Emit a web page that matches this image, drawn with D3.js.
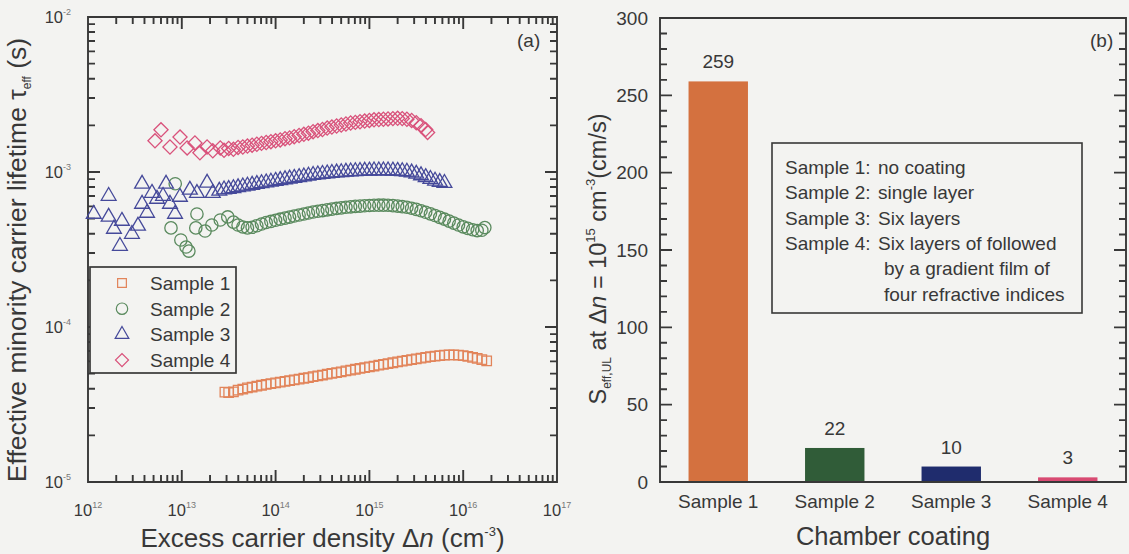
<!DOCTYPE html>
<html>
<head>
<meta charset="utf-8">
<script src="https://cdn.jsdelivr.net/npm/d3@7"></script>
<style>
  html, body { margin: 0; padding: 0; background: #f3f3f1; }
  svg { display: block; font-family: "Liberation Sans", Arial, Helvetica, sans-serif; }
</style>
</head>
<body>
<svg id="chart" width="1129" height="554"></svg>
<script>
// ---------- Panel (a): effective lifetime vs. excess carrier density ----------
// [Δn (cm^-3), τeff (s)]
const sample1 = [
  [2.88e13,3.80e-5],[3.16e13,3.78e-5],[3.55e13,3.82e-5],[3.98e13,3.92e-5],[4.47e13,3.98e-5],[5.01e13,4.05e-5],
  [5.62e13,4.10e-5],[6.31e13,4.16e-5],[7.08e13,4.21e-5],[7.94e13,4.26e-5],[8.91e13,4.31e-5],
  [1.00e14,4.36e-5],[1.12e14,4.41e-5],[1.26e14,4.46e-5],[1.41e14,4.51e-5],[1.58e14,4.56e-5],[1.78e14,4.61e-5],
  [2.00e14,4.67e-5],[2.24e14,4.72e-5],[2.51e14,4.78e-5],[2.82e14,4.84e-5],[3.16e14,4.90e-5],[3.55e14,4.96e-5],
  [3.98e14,5.02e-5],[4.47e14,5.08e-5],[5.01e14,5.14e-5],[5.62e14,5.21e-5],[6.31e14,5.27e-5],[7.08e14,5.34e-5],
  [7.94e14,5.40e-5],[8.91e14,5.47e-5],
  [1.00e15,5.53e-5],[1.12e15,5.60e-5],[1.26e15,5.67e-5],[1.41e15,5.74e-5],[1.58e15,5.81e-5],[1.78e15,5.88e-5],
  [2.00e15,5.95e-5],[2.24e15,6.02e-5],[2.51e15,6.09e-5],[2.82e15,6.16e-5],[3.16e15,6.23e-5],[3.55e15,6.30e-5],
  [3.98e15,6.37e-5],[4.47e15,6.43e-5],[5.01e15,6.49e-5],[5.62e15,6.54e-5],[6.31e15,6.58e-5],[7.08e15,6.60e-5],
  [7.94e15,6.60e-5],[8.91e15,6.58e-5],
  [1.00e16,6.53e-5],[1.12e16,6.46e-5],[1.26e16,6.37e-5],[1.41e16,6.27e-5],[1.58e16,6.16e-5],[1.78e16,6.05e-5]
];
const sample2 = [
  [7.67e12,4.36e-4],[8.51e12,8.40e-4],[9.77e12,3.64e-4],[1.11e13,3.28e-4],[1.19e13,3.09e-4],[1.41e13,4.36e-4],
  [1.45e13,5.36e-4],[1.77e13,4.16e-4],[2.09e13,4.55e-4],[2.57e13,4.90e-4],[3.09e13,5.13e-4],
  [3.55e13,4.75e-4],[3.98e13,4.55e-4],[4.47e13,4.42e-4],[5.01e13,4.36e-4],[5.62e13,4.40e-4],[6.31e13,4.50e-4],
  [7.08e13,4.62e-4],[7.94e13,4.72e-4],[8.91e13,4.80e-4],
  [1.00e14,4.88e-4],[1.12e14,4.96e-4],[1.26e14,5.04e-4],[1.41e14,5.12e-4],[1.58e14,5.20e-4],[1.78e14,5.28e-4],
  [2.00e14,5.36e-4],[2.24e14,5.44e-4],[2.51e14,5.52e-4],[2.82e14,5.58e-4],[3.16e14,5.64e-4],[3.55e14,5.70e-4],
  [3.98e14,5.76e-4],[4.47e14,5.82e-4],[5.01e14,5.87e-4],[5.62e14,5.92e-4],[6.31e14,5.96e-4],[7.08e14,6.00e-4],
  [7.94e14,6.03e-4],[8.91e14,6.06e-4],
  [1.00e15,6.08e-4],[1.12e15,6.10e-4],[1.26e15,6.11e-4],[1.41e15,6.11e-4],[1.58e15,6.10e-4],[1.78e15,6.07e-4],
  [2.00e15,6.03e-4],[2.24e15,5.98e-4],[2.51e15,5.92e-4],[2.82e15,5.84e-4],[3.16e15,5.74e-4],[3.55e15,5.62e-4],
  [3.98e15,5.50e-4],[4.47e15,5.37e-4],[5.01e15,5.24e-4],[5.62e15,5.10e-4],[6.31e15,4.96e-4],[7.08e15,4.82e-4],
  [7.94e15,4.68e-4],[8.91e15,4.55e-4],
  [1.00e16,4.43e-4],[1.12e16,4.33e-4],[1.26e16,4.24e-4],[1.41e16,4.19e-4],[1.58e16,4.21e-4],[1.70e16,4.38e-4]
];
const sample3 = [
  [1.15e12,5.36e-4],[1.66e12,7.00e-4],[1.66e12,5.13e-4],[1.89e12,4.29e-4],[2.19e12,3.33e-4],[2.30e12,4.83e-4],
  [2.94e12,3.98e-4],[3.41e12,4.49e-4],[3.77e12,8.38e-4],[3.77e12,6.22e-4],[4.26e12,5.44e-4],[4.81e12,7.32e-4],
  [5.44e12,6.70e-4],[6.31e12,7.00e-4],[6.79e12,8.38e-4],[7.48e12,6.22e-4],[8.47e12,5.36e-4],[9.55e12,6.90e-4],
  [1.22e13,7.66e-4],[1.45e13,7.30e-4],[1.86e13,8.50e-4],[2.14e13,7.30e-4],
  [2.51e13,7.55e-4],[2.82e13,7.70e-4],[3.16e13,7.75e-4],[3.55e13,7.85e-4],[3.98e13,7.95e-4],[4.47e13,8.05e-4],
  [5.01e13,8.15e-4],[5.62e13,8.25e-4],[6.31e13,8.35e-4],[7.08e13,8.45e-4],[7.94e13,8.55e-4],[8.91e13,8.65e-4],
  [1.00e14,8.75e-4],[1.12e14,8.85e-4],[1.26e14,8.95e-4],[1.41e14,9.05e-4],[1.58e14,9.15e-4],[1.78e14,9.25e-4],
  [2.00e14,9.35e-4],[2.24e14,9.45e-4],[2.51e14,9.55e-4],[2.82e14,9.63e-4],[3.16e14,9.70e-4],[3.55e14,9.77e-4],
  [3.98e14,9.84e-4],[4.47e14,9.90e-4],[5.01e14,9.96e-4],[5.62e14,1.001e-3],[6.31e14,1.006e-3],[7.08e14,1.010e-3],
  [7.94e14,1.014e-3],[8.91e14,1.017e-3],
  [1.00e15,1.019e-3],[1.12e15,1.021e-3],[1.26e15,1.022e-3],[1.41e15,1.022e-3],[1.58e15,1.021e-3],[1.78e15,1.019e-3],
  [2.00e15,1.015e-3],[2.24e15,1.010e-3],[2.51e15,1.003e-3],[2.82e15,9.90e-4],[3.16e15,9.72e-4],[3.55e15,9.50e-4],
  [3.98e15,9.25e-4],[4.47e15,9.00e-4],[5.01e15,8.78e-4],[5.62e15,8.60e-4],[6.31e15,8.48e-4]
];
const sample4 = [
  [5.18e12,1.59e-3],[6.00e12,1.87e-3],[7.48e12,1.45e-3],[9.57e12,1.68e-3],[1.14e13,1.43e-3],[1.38e13,1.54e-3],
  [1.56e13,1.33e-3],[1.86e13,1.45e-3],[2.14e13,1.37e-3],[2.57e13,1.43e-3],
  [2.82e13,1.38e-3],[3.16e13,1.42e-3],[3.55e13,1.40e-3],[3.98e13,1.44e-3],[4.47e13,1.45e-3],[5.01e13,1.47e-3],
  [5.62e13,1.49e-3],[6.31e13,1.51e-3],[7.08e13,1.53e-3],[7.94e13,1.55e-3],[8.91e13,1.57e-3],
  [1.00e14,1.59e-3],[1.12e14,1.61e-3],[1.26e14,1.64e-3],[1.41e14,1.66e-3],[1.58e14,1.69e-3],[1.78e14,1.72e-3],
  [2.00e14,1.75e-3],[2.24e14,1.78e-3],[2.51e14,1.82e-3],[2.82e14,1.85e-3],[3.16e14,1.88e-3],[3.55e14,1.92e-3],
  [3.98e14,1.95e-3],[4.47e14,1.98e-3],[5.01e14,2.01e-3],[5.62e14,2.04e-3],[6.31e14,2.07e-3],[7.08e14,2.09e-3],
  [7.94e14,2.11e-3],[8.91e14,2.13e-3],
  [1.00e15,2.15e-3],[1.12e15,2.17e-3],[1.26e15,2.18e-3],[1.41e15,2.19e-3],[1.58e15,2.20e-3],[1.78e15,2.21e-3],
  [2.00e15,2.22e-3],[2.24e15,2.21e-3],[2.51e15,2.19e-3],[2.82e15,2.15e-3],[3.16e15,2.08e-3],[3.55e15,1.99e-3],
  [3.98e15,1.88e-3],[4.17e15,1.80e-3]
];
const seriesNames = ["Sample 1", "Sample 2", "Sample 3", "Sample 4"];
const dnDecades = [1e12, 1e13, 1e14, 1e15, 1e16, 1e17];
const tauDecades = [1e-5, 1e-4, 1e-3, 1e-2];

// ---------- Panel (b): S_eff,UL per chamber coating ----------
const coatings = ["Sample 1", "Sample 2", "Sample 3", "Sample 4"];
const sEff = [259, 22, 10, 3];
const sTicks = [0, 50, 100, 150, 200, 250, 300];
const coatingNotes = [
  ["Sample 1:", "no coating"],
  ["Sample 2:", "single layer"],
  ["Sample 3:", "Six layers"],
  ["Sample 4:", "Six layers of followed"],
  ["", "by a gradient film of"],
  ["", "four refractive indices"]
];

// ---------- styling ----------
const ink = "#383838";
const bg = "#f3f3f1";
const markerColors = ["#e2845a", "#5a8a5e", "#45499a", "#d9527b"];
const barColors = ["#d4713f", "#305c38", "#1f2c6d", "#d84a72"];
const markerShapes = [
  { type: d3.symbolSquare, size: 90, rotate: 0 },
  { type: d3.symbolCircle, size: 120, rotate: 0 },
  { type: d3.symbolTriangle, size: 95, rotate: 0 },
  { type: d3.symbolSquare, size: 100, rotate: 45 }
];

const svg = d3.select("#chart");

// Frame outline plus inward tick marks, all in one path.
// ticks: list of {scale, values, edge: "top"|"bottom"|"left"|"right", len}
function framePath(box, ticks) {
  const p = d3.path();
  p.rect(box.left, box.top, box.right - box.left, box.bottom - box.top);
  ticks.forEach(t => {
    t.values.forEach(v => {
      const q = t.scale(v);
      if (t.edge === "bottom") { p.moveTo(q, box.bottom); p.lineTo(q, box.bottom - t.len); }
      if (t.edge === "top")    { p.moveTo(q, box.top);    p.lineTo(q, box.top + t.len); }
      if (t.edge === "left")   { p.moveTo(box.left, q);   p.lineTo(box.left + t.len, q); }
      if (t.edge === "right")  { p.moveTo(box.right, q);  p.lineTo(box.right - t.len, q); }
    });
  });
  return p.toString();
}

// ================= Panel (a) =================
const A = { left: 88, right: 557, top: 17, bottom: 482 };
const x = d3.scaleLog().domain([1e12, 1e17]).range([A.left, A.right]);
const y = d3.scaleLog().domain([1e-5, 1e-2]).range([A.bottom, A.top]);
const isDecade = v => Math.abs(Math.log10(v) - Math.round(Math.log10(v))) < 1e-9;
const xMinor = x.ticks().filter(v => !isDecade(v));
const yMinor = y.ticks().filter(v => !isDecade(v));

const gA = svg.append("g");

gA.append("path")
  .attr("d", framePath(A, [
    { scale: x, values: xMinor, edge: "bottom", len: 7 },
    { scale: x, values: dnDecades, edge: "bottom", len: 12 },
    { scale: x, values: xMinor, edge: "top", len: 7 },
    { scale: x, values: dnDecades, edge: "top", len: 12 },
    { scale: y, values: yMinor, edge: "left", len: 7 },
    { scale: y, values: tauDecades, edge: "left", len: 12 },
    { scale: y, values: yMinor, edge: "right", len: 7 },
    { scale: y, values: tauDecades, edge: "right", len: 12 }
  ]))
  .attr("fill", "none").attr("stroke", ink).attr("stroke-width", 1.9);

// decade labels
const xLab = gA.selectAll(".xlab").data(dnDecades).join("text")
  .attr("class", "xlab")
  .attr("x", d => x(d)).attr("y", 516)
  .attr("text-anchor", "middle").attr("fill", ink).attr("font-size", 16.5);
xLab.append("tspan").text("10");
xLab.append("tspan").attr("font-size", 9).attr("dy", -8).attr("fill", "#777")
  .text(d => Math.round(Math.log10(d)));

const yLab = gA.selectAll(".ylab").data(tauDecades).join("text")
  .attr("class", "ylab")
  .attr("x", 71).attr("y", d => y(d) + 6)
  .attr("text-anchor", "end").attr("fill", ink).attr("font-size", 16.5);
yLab.append("tspan").text("10");
yLab.append("tspan").attr("font-size", 9).attr("dy", -8).attr("fill", "#777")
  .text(d => "-" + Math.abs(Math.round(Math.log10(d))));

// scatter series
[sample1, sample2, sample3, sample4].forEach((data, i) => {
  const m = markerShapes[i];
  gA.append("g")
    .selectAll("path").data(data).join("path")
    .attr("d", d3.symbol().type(m.type).size(m.size))
    .attr("transform", d => `translate(${x(d[0])},${y(d[1])}) rotate(${m.rotate})`)
    .attr("fill", "none")
    .attr("stroke", markerColors[i])
    .attr("stroke-width", 1.3);
});

// legend
const legA = gA.append("g");
legA.append("rect")
  .attr("x", 90).attr("y", 267).attr("width", 146).attr("height", 106)
  .attr("fill", bg).attr("stroke", ink).attr("stroke-width", 1.7);
const legRows = legA.selectAll(".row").data(seriesNames).join("g")
  .attr("class", "row")
  .attr("transform", (d, i) => `translate(0,${283 + i * 25.7})`);
legRows.append("path")
  .attr("d", (d, i) => d3.symbol().type(markerShapes[i].type).size(markerShapes[i].size * 0.85)())
  .attr("transform", (d, i) => `translate(122,0) rotate(${markerShapes[i].rotate})`)
  .attr("fill", "none")
  .attr("stroke", (d, i) => markerColors[i])
  .attr("stroke-width", 1.2);
legRows.append("text")
  .attr("x", 150).attr("y", 7)
  .attr("font-size", 19).attr("fill", ink)
  .text(d => d);

gA.append("text").attr("x", 517).attr("y", 47)
  .attr("font-size", 19).attr("fill", ink).text("(a)");

// axis titles
const xTitle = gA.append("text")
  .attr("x", (A.left + A.right) / 2).attr("y", 547)
  .attr("text-anchor", "middle").attr("font-size", 26).attr("fill", ink);
xTitle.append("tspan").text("Excess carrier density \u0394");
xTitle.append("tspan").attr("font-style", "italic").text("n");
xTitle.append("tspan").text(" (cm");
xTitle.append("tspan").attr("font-size", 13).attr("dy", -11).text("-3");
xTitle.append("tspan").attr("dy", 11).text(")");

const yTitle = gA.append("text")
  .attr("transform", `translate(26,260) rotate(-90)`)
  .attr("text-anchor", "middle").attr("font-size", 26.5).attr("fill", ink);
yTitle.append("tspan").text("Effective minority carrier lifetime \u03c4");
yTitle.append("tspan").attr("font-size", 12).attr("dy", 5).text("eff");
yTitle.append("tspan").attr("dy", -5).text(" (s)");

// ================= Panel (b) =================
const B = { left: 660, right: 1126, top: 18, bottom: 482 };
const bx = d3.scaleBand().domain(coatings).range([B.left, B.right])
  .paddingInner(0.49).paddingOuter(0.245);
const by = d3.scaleLinear().domain([0, 300]).range([B.bottom, B.top]);
const sMinor = d3.range(0, 301, 10).filter(v => v % 50 !== 0);

const gB = svg.append("g");

gB.append("g").selectAll("rect").data(coatings).join("rect")
  .attr("x", d => bx(d))
  .attr("y", (d, i) => by(sEff[i]))
  .attr("width", bx.bandwidth())
  .attr("height", (d, i) => by(0) - by(sEff[i]))
  .attr("fill", (d, i) => barColors[i]);

gB.append("g").selectAll("text").data(coatings).join("text")
  .attr("x", d => bx(d) + bx.bandwidth() / 2)
  .attr("y", (d, i) => by(sEff[i]) - 13)
  .attr("text-anchor", "middle").attr("font-size", 19).attr("fill", ink)
  .text((d, i) => sEff[i]);

gB.append("path")
  .attr("d", framePath(B, [
    { scale: by, values: sMinor, edge: "left", len: 7 },
    { scale: by, values: sTicks, edge: "left", len: 12 },
    { scale: by, values: sMinor, edge: "right", len: 7 },
    { scale: by, values: sTicks, edge: "right", len: 12 }
  ]))
  .attr("fill", "none").attr("stroke", ink).attr("stroke-width", 1.9);

// value labels on the left axis
gB.append("g").attr("transform", `translate(${B.left},0)`)
  .call(d3.axisLeft(by).tickValues(sTicks).tickSize(0).tickPadding(12))
  .call(g => {
    g.select(".domain").remove();
    g.selectAll("text").attr("font-size", 19).attr("fill", ink)
      .attr("font-family", "Liberation Sans, Arial, sans-serif");
  });

// category labels
gB.append("g").attr("transform", `translate(0,${B.bottom})`)
  .call(d3.axisBottom(bx).tickSize(0).tickPadding(13))
  .call(g => {
    g.select(".domain").remove();
    g.selectAll("text").attr("font-size", 19).attr("fill", ink)
      .attr("font-family", "Liberation Sans, Arial, sans-serif");
  });

gB.append("text").attr("x", 1090).attr("y", 47)
  .attr("font-size", 19).attr("fill", ink).text("(b)");

// description box
const note = gB.append("g");
note.append("rect")
  .attr("x", 772).attr("y", 143).attr("width", 310).attr("height", 170)
  .attr("fill", "none").attr("stroke", ink).attr("stroke-width", 1.6);
const noteRows = note.selectAll(".nrow").data(coatingNotes).join("g")
  .attr("class", "nrow")
  .attr("transform", (d, i) => `translate(0,${174 + i * 25.3})`);
noteRows.append("text").attr("x", 785).attr("font-size", 19).attr("fill", ink).text(d => d[0]);
noteRows.append("text").attr("x", (d, i) => i < 4 ? 878 : 884)
  .attr("font-size", 19).attr("fill", ink).text(d => d[1]);

// axis titles
gB.append("text")
  .attr("x", (B.left + B.right) / 2).attr("y", 545)
  .attr("text-anchor", "middle").attr("font-size", 25.5).attr("fill", ink)
  .text("Chamber coating");

const sTitle = gB.append("text")
  .attr("transform", `translate(606,259) rotate(-90)`)
  .attr("text-anchor", "middle").attr("font-size", 23.5).attr("fill", ink);
sTitle.append("tspan").text("S");
sTitle.append("tspan").attr("font-size", 12).attr("dy", 5).text("eff,UL");
sTitle.append("tspan").attr("dy", -5).text(" at \u0394");
sTitle.append("tspan").attr("font-style", "italic").text("n");
sTitle.append("tspan").text(" = 10");
sTitle.append("tspan").attr("font-size", 13).attr("dy", -11).text("15");
sTitle.append("tspan").attr("dy", 11).text(" cm");
sTitle.append("tspan").attr("font-size", 13).attr("dy", -11).text("-3");
sTitle.append("tspan").attr("dy", 11).text("(cm/s)");
</script>
</body>
</html>
